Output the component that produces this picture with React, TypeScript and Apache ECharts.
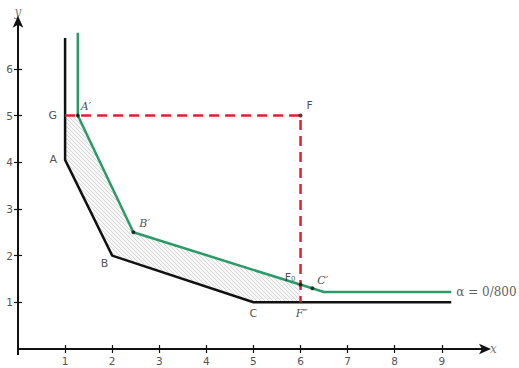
import React, { useEffect, useRef } from "react";
import * as echarts from "echarts";

const xTicks = [1, 2, 3, 4, 5, 6, 7, 8, 9];
const yTicks = [1, 2, 3, 4, 5, 6];
const xAxisStub = [[-0.23, 0], [0, 0]];
const yAxisStub = [[0, -0.13], [0, 0]];

const blackLine = [[1, 6.66], [1, 4.05], [2, 2], [5, 1], [9.2, 1]];
const greenLine = [[1.27, 6.77], [1.27, 5], [2.45, 2.5], [6.5, 1.22], [9.2, 1.22]];
const redDashed = [[1, 5], [6, 5], [6, 1]];
const hatchRegion = [[1, 5], [1.27, 5], [2.45, 2.5], [6, 1.38], [6, 1], [5, 1], [2, 2], [1, 4.05]];

const dotNames = ["A′", "B′", "F", "F₀", "C′"];
const dotValues = [[1.27, 5], [2.45, 2.5], [6, 5], [6, 1.38], [6.25, 1.3]];
const plainNames = ["G", "A", "B", "C", "F″"];
const plainValues = [[1, 5], [1, 4.05], [2, 2], [5, 1], [6, 1]];
const curveLabel = "α = 0/800";
const curveLabelAt = [9.2, 1.22];

const sans = "'DejaVu Sans', sans-serif";
const serif = "'DejaVu Serif', 'Liberation Serif', serif";

const labelStyle: Record<string, any> = {
  "A′": { position: "right", offset: [-4, -9], fontFamily: serif, fontStyle: "italic" },
  "B′": { position: "right", offset: [-1, -9], fontFamily: serif, fontStyle: "italic" },
  "F": { position: "right", offset: [-1, -10], fontFamily: sans },
  "F₀": { position: "left", offset: [2, -7], fontFamily: sans },
  "C′": { position: "right", offset: [-2, -8], fontFamily: serif, fontStyle: "italic" },
  "G": { position: "left", offset: [-3, 0], fontFamily: sans },
  "A": { position: "left", offset: [-3, 0], fontFamily: sans },
  "B": { position: "left", offset: [1, 8], fontFamily: sans },
  "C": { position: "bottom", offset: [0, 1], fontFamily: sans },
  "F″": { position: "bottom", offset: [1, 1], fontFamily: serif, fontStyle: "italic" },
};

function hatchRender(params: any, api: any) {
  const pts = hatchRegion.map((p) => api.coord(p));
  const spacing = 4;
  let cMin = Infinity, cMax = -Infinity;
  pts.forEach((p: number[]) => {
    const c = p[1] - p[0];
    cMin = Math.min(cMin, c);
    cMax = Math.max(cMax, c);
  });
  const children: any[] = [
    { type: "polygon", shape: { points: pts }, style: { fill: "#f8f8f8", stroke: "none" } },
  ];
  for (let c = Math.ceil(cMin / spacing) * spacing; c <= cMax; c += spacing) {
    const hits: number[][] = [];
    for (let i = 0; i < pts.length; i++) {
      const a = pts[i];
      const b = pts[(i + 1) % pts.length];
      const fa = a[1] - a[0] - c;
      const fb = b[1] - b[0] - c;
      if ((fa < 0 && fb >= 0) || (fa >= 0 && fb < 0)) {
        const t = fa / (fa - fb);
        hits.push([a[0] + t * (b[0] - a[0]), a[1] + t * (b[1] - a[1])]);
      }
    }
    hits.sort((p, q) => p[0] - q[0]);
    for (let k = 0; k + 1 < hits.length; k += 2) {
      children.push({
        type: "line",
        shape: { x1: hits[k][0], y1: hits[k][1], x2: hits[k + 1][0], y2: hits[k + 1][1] },
        style: { stroke: "#cdcdcd", lineWidth: 0.8 },
      });
    }
  }
  return { type: "group", children };
}

export default function App() {
  const ref = useRef<HTMLDivElement>(null);
  useEffect(() => {
    if (!ref.current) return;
    const chart = echarts.init(ref.current, null, { renderer: "svg" });
    const axisLine = {
      onZero: false,
      symbol: ["none", "arrow"],
      symbolSize: [8, 12],
      symbolOffset: [0, 4],
      lineStyle: { color: "#111", width: 2 },
    };
    const tickStyle = { color: "#111", width: 1.2 };
    const tickLabelStyle = { color: "#555", fontSize: 10.5, fontFamily: sans };
    const nameStyle = { color: "#777", fontSize: 12, fontFamily: serif, fontStyle: "italic" };
    chart.setOption({
      animation: false,
      backgroundColor: "#fff",
      grid: { left: 18, right: 32, top: 19.8, bottom: 19, containLabel: false, outerBoundsMode: "none" },
      xAxis: [
        {
          type: "value",
          position: "bottom",
          min: 0,
          max: 9.96,
          axisLine,
          axisTick: { customValues: xTicks, length: 4, lineStyle: tickStyle },
          axisLabel: { customValues: xTicks, margin: 6, ...tickLabelStyle },
          splitLine: { show: false },
          name: "x",
          nameGap: 3,
          nameTextStyle: nameStyle,
        },
        {
          type: "value",
          position: "bottom",
          min: 0,
          max: 9.96,
          axisLine: { show: false, onZero: false },
          axisTick: { customValues: xTicks, inside: true, length: 4, lineStyle: tickStyle },
          axisLabel: { show: false },
          splitLine: { show: false },
        },
      ],
      yAxis: [
        {
          type: "value",
          position: "left",
          min: 0,
          max: 7.05,
          axisLine,
          axisTick: { customValues: yTicks, length: 4, lineStyle: tickStyle },
          axisLabel: { customValues: yTicks, margin: 5, ...tickLabelStyle },
          splitLine: { show: false },
          name: "y",
          nameGap: 2,
          nameTextStyle: nameStyle,
        },
        {
          type: "value",
          position: "left",
          min: 0,
          max: 7.05,
          axisLine: { show: false, onZero: false },
          axisTick: { customValues: yTicks, inside: true, length: 4, lineStyle: tickStyle },
          axisLabel: { show: false },
          splitLine: { show: false },
        },
      ],
      series: [
        {
          type: "custom",
          renderItem: hatchRender,
          data: [[0, 0]],
          silent: true,
          z: 1,
        },
        {
          type: "line",
          data: xAxisStub,
          clip: false,
          showSymbol: false,
          lineStyle: { color: "#111", width: 2 },
          z: 2,
        },
        {
          type: "line",
          data: yAxisStub,
          clip: false,
          showSymbol: false,
          lineStyle: { color: "#111", width: 2 },
          z: 2,
        },
        {
          type: "line",
          data: blackLine,
          showSymbol: false,
          lineStyle: { color: "#111", width: 2.5 },
          z: 2,
        },
        {
          type: "line",
          data: greenLine,
          showSymbol: false,
          lineStyle: { color: "#2a9b66", width: 2.5 },
          z: 3,
        },
        {
          type: "line",
          data: redDashed,
          showSymbol: false,
          lineStyle: { color: "#e3202b", width: 2.5, type: [10, 6] },
          z: 4,
        },
        {
          type: "scatter",
          symbolSize: 4,
          itemStyle: { color: "#111" },
          z: 5,
          data: dotValues.map((v, i) => ({
            value: v,
            name: dotNames[i],
            label: { show: true, formatter: dotNames[i], color: "#222", fontSize: 11, ...labelStyle[dotNames[i]] },
          })),
        },
        {
          type: "scatter",
          symbolSize: 0,
          z: 5,
          data: plainValues.map((v, i) => ({
            value: v,
            name: plainNames[i],
            label: { show: true, formatter: plainNames[i], color: "#222", fontSize: 11, ...labelStyle[plainNames[i]] },
          })),
        },
        {
          type: "scatter",
          symbolSize: 0,
          z: 5,
          data: [
            {
              value: curveLabelAt,
              label: {
                show: true,
                formatter: curveLabel,
                position: "right",
                distance: 5,
                color: "#333",
                fontSize: 12,
                fontFamily: serif,
              },
            },
          ],
        },
      ],
    });
    return () => chart.dispose();
  }, []);
  return <div ref={ref} style={{ position: "absolute", left: 0, top: 0, width: 519, height: 368 }} />;
}
